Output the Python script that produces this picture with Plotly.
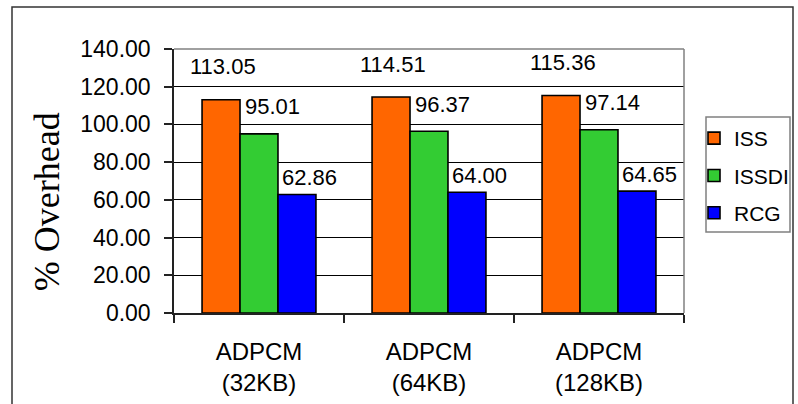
import plotly.graph_objects as go

# Benchmarks on the x axis and the three overhead series (%)
categories = ["ADPCM<br>(32KB)", "ADPCM<br>(64KB)", "ADPCM<br>(128KB)"]
iss = [113.05, 114.51, 115.36]
issdi = [95.01, 96.37, 97.14]
rcg = [62.86, 64.00, 64.65]
y_ticks = [0, 20, 40, 60, 80, 100, 120, 140]

series = [
    ("ISS", iss, "#FF6600", -36, 33),
    ("ISSDI", issdi, "#33CC33", 13, 27),
    ("RCG", rcg, "#0000FF", 50, 17),
]

fig = go.Figure()
annotations = []
for i, (name, vals, color, dx, dy) in enumerate(series):
    fig.add_trace(go.Bar(
        name=name, x=categories, y=vals,
        marker=dict(color=color, line=dict(color="black", width=1.6)),
        legendgroup=name,
    ))
    for c, v in zip(categories, vals):
        annotations.append(dict(
            x=c, y=v, xref="x", yref="y", text=f"{v:.2f}", showarrow=False,
            xanchor="center", yanchor="middle", xshift=dx, yshift=dy,
            font=dict(family="Liberation Sans, Arial", size=22, color="black"),
        ))

# y-axis title
annotations.append(dict(
    x=-0.249, y=0.42, xref="paper", yref="paper", text="% Overhead",
    textangle=-90, showarrow=False, xanchor="center", yanchor="middle",
    font=dict(family="Liberation Serif, Times New Roman", size=36, color="black"),
))

def px_x(p):
    return (p - 174) / 510

def px_y(p):
    return (313 - p) / 264

shapes = [
    # outer frame
    dict(type="rect", xref="paper", yref="paper", x0=px_x(12), x1=px_x(793),
         y0=-0.5, y1=px_y(7), line=dict(color="#333333", width=1.5), layer="below"),
    # grey plot-area border on top and right
    dict(type="line", xref="paper", yref="paper", x0=0, x1=1, y0=1, y1=1,
         line=dict(color="#808080", width=1.5)),
    dict(type="line", xref="paper", yref="paper", x0=1, x1=1, y0=0, y1=1,
         line=dict(color="#808080", width=1.5)),
    # legend frame
    dict(type="rect", xref="paper", yref="paper", x0=px_x(706), x1=px_x(790),
         y0=px_y(232), y1=px_y(117), line=dict(color="#808080", width=1.5)),
]

fig.update_layout(
    width=798, height=404,
    margin=dict(l=174, r=114, t=49, b=91, autoexpand=False),
    paper_bgcolor="white", plot_bgcolor="white",
    barmode="group", bargap=0.33, bargroupgap=0,
    font=dict(family="Liberation Sans, Arial", color="black"),
    showlegend=True,
    legend=dict(
        x=px_x(694), y=px_y(118), xanchor="left", yanchor="top",
        borderwidth=0, bgcolor="rgba(0,0,0,0)",
        font=dict(size=21, family="Liberation Sans, Arial"),
        traceorder="grouped", tracegroupgap=7,
    ),
    annotations=annotations,
    shapes=shapes,
)
fig.update_yaxes(
    range=[0, 140], tickvals=y_ticks, tickformat=".2f",
    showgrid=True, gridcolor="black", gridwidth=1,
    showline=True, linecolor="#222222", linewidth=1.5,
    ticks="outside", ticklen=8, tickcolor="#222222", tickwidth=1.5,
    tickfont=dict(size=23), ticklabelstandoff=9, zeroline=False,
)
fig.update_xaxes(
    showline=True, linecolor="#222222", linewidth=1.5,
    ticks="outside", ticklen=8, tickcolor="#222222", tickwidth=1.5,
    tickson="boundaries", tickfont=dict(size=24), ticklabelstandoff=16,
)

fig.write_html("out.html")
